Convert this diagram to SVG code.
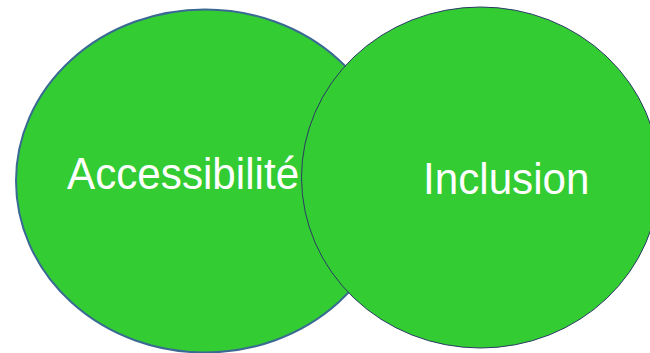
<svg xmlns="http://www.w3.org/2000/svg" width="650" height="353" viewBox="0 0 650 353">
<style>
.label{font-family:"Liberation Sans",Arial,sans-serif;font-size:43.5px;fill:#ffffff}
.shape{fill:#33CC33}
</style>
<rect width="650" height="353" fill="#ffffff"/>
<g id="connectors"></g>
<g id="node-accessibilite">
<ellipse class="shape" cx="205" cy="181" rx="189" ry="171.5" stroke="#3A6A94" stroke-width="2"/>
<text class="label" transform="translate(67,189) scale(0.97,1)" x="0" y="0">Accessibilité</text>
</g>
<g id="node-inclusion">
<ellipse class="shape" cx="480.5" cy="177.5" rx="179" ry="170.5" stroke="#2B3A67" stroke-width="1"/>
<text class="label" transform="translate(423,194) scale(0.97,1)" x="0" y="0">Inclusion</text>
</g>
</svg>
